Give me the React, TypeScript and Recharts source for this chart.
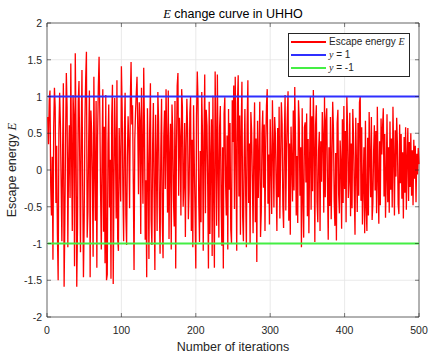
import type { ReactElement, ReactNode } from "react";
import { CartesianGrid, Legend, Line, LineChart, ReferenceArea, XAxis, YAxis } from "recharts";

// Escape energy E per iteration (1..500)
const escapeEnergy: number[] = [
  0.72, 0.35, 0.95, 1.08, -0.22, -0.62, 0.18, -1.22, 0.58, 1.12,
  0.86, -0.45, 0.33, -0.88, -1.5, 0.52, 1.05, 0.64, -0.21, -0.97,
  0.28, 1.18, -1.59, -0.72, 0.45, 1.32, 0.86, -1.05, 0.08, 0.61,
  -0.38, 1.45, 0.22, -0.83, 1.02, 0.74, -1.31, 1.59, 0.54, -1.59,
  -0.78, 0.93, 1.21, 0.12, -1.12, 0.47, 1.36, -0.26, -1.46, -0.68,
  0.68, 1.24, 1.61, -0.92, -0.57, 0.38, 1.08, -1.46, 0.81, 0.52,
  -0.14, -1.18, 1.27, 0.03, -0.69, 0.94, -1.33, 0.46, 1.13, 1.54,
  0.77, -0.31, -1.08, 0.21, 1.1, -0.84, 0.59, -1.27, 1.02, -1.5,
  -1.42, 0.36, 0.89, -0.51, 0.14, -1.48, 0.72, 1.16, -1.55, -0.23,
  0.98, 0.31, -0.66, 1.22, -0.94, -1.1, 0.57, 0.06, -0.43, 1.41,
  0.84, -0.28, -0.97, 0.49, 1.05, -0.61, -1.02, 0.18, 0.73, 0.35,
  -0.52, 0.96, 1.47, 0.62, 0.88, -0.19, -1.36, 0.41, 0.79, 1.04,
  1.27, 0.55, -0.33, 0.92, 0.68, -0.87, 1.12, 0.27, -0.46, 1.39,
  0.61, -0.95, -0.14, -1.46, 0.84, 0.07, -1.21, 0.53, 1.18, -0.68,
  -1.02, 0.34, 0.91, -0.37, -1.36, 0.75, 0.12, -0.83, 1.06, 0.66,
  -0.49, -1.14, 0.29, 0.97, -0.71, -1.2, 0.45, 0.81, -0.26, 1.1,
  0.37, -0.58, 1.08, -0.94, 0.16, 0.63, -1.08, 0.89, 0.52, -0.41,
  -0.77, 0.94, -1.34, 0.28, 1.15, 1.32, -0.35, 0.71, 0.43, -0.62,
  1.1, 0.86, -0.5, -0.18, 0.64, -0.91, 0.32, 0.97, 0.55, -0.67,
  -0.29, 0.78, 1.0, -0.83, 0.41, -1.05, 0.88, 0.09, -0.56, -1.34,
  0.73, 1.34, 0.95, -0.44, -0.98, 0.26, -0.71, 1.06, 0.48, -1.1,
  0.37, 1.3, -0.59, 0.82, 0.61, -0.2, -1.34, 0.93, -0.87, 0.15,
  0.69, -1.17, 1.01, -0.35, -1.33, 1.34, 0.44, -0.76, 1.3, 0.05,
  -0.92, 0.58, 0.87, -0.41, -1.03, 0.31, -1.34, 0.76, 0.99, -0.15,
  -0.62, 0.47, -1.08, 0.83, -0.27, 0.64, -0.81, -1.0, 0.95, 0.38,
  1.15, -0.53, 1.27, 0.22, -1.1, 0.91, 1.29, -0.36, 0.74, -0.88,
  0.52, 1.2, -0.64, -0.97, 0.17, 0.83, -0.32, -1.05, 0.61, 1.22,
  -0.45, 0.36, -1.0, 0.79, 0.54, -0.12, -0.86, 0.28, 0.92, -0.71,
  0.43, -1.25, 0.67, -0.38, 0.15, 0.93, -0.91, -0.57, 0.49, 0.81,
  -0.24, 0.62, -0.83, 0.37, 0.88, 1.1, -0.46, 0.21, -0.74, 0.69,
  0.08, -0.6, 0.95, 0.33, -0.51, 0.72, 0.48, -0.2, -0.83, 0.57,
  -0.37, 0.86, -0.66, 0.14, 0.92, 0.63, -0.48, -0.79, 0.41, 1.02,
  -0.55, 0.27, 0.74, 1.07, -0.69, 0.36, -0.88, 0.59, 0.12, -0.43,
  0.81, -0.28, 1.13, 0.46, -0.62, 0.19, -0.72, 0.95, 0.67, -0.35,
  0.31, -1.05, 0.84, -0.41, -0.92, 0.58, 0.65, -0.17, 0.77, -0.63,
  0.42, -0.86, 0.18, 1.0, -0.54, 0.73, -0.29, 1.09, 0.35, -0.98,
  0.61, 0.88, -0.44, -0.71, 0.26, 0.52, -0.83, 0.39, -0.16, 0.79,
  0.47, -0.58, 1.0, -0.37, 0.68, 0.84, -0.22, -0.95, 0.31, -0.49,
  0.72, -0.67, 0.14, 0.93, 0.56, -0.41, -0.76, 0.23, -0.96, 0.64,
  0.82, -0.33, -0.59, 0.4, 0.11, -0.8, 0.69, -0.45, 0.87, -0.26,
  0.53, -0.71, 1.0, 0.61, -0.38, -0.14, 0.78, -0.63, 0.36, -0.52,
  0.83, 0.46, -0.29, -0.88, 0.71, 0.05, -0.57, 0.64, -0.35, 0.92,
  1.0, -0.42, 0.58, -0.74, -0.19, 0.31, -0.86, 0.67, -0.51, -0.83,
  0.44, -0.62, 0.79, 0.18, -0.37, 0.72, -0.68, -0.46, 0.25, 0.61,
  -0.28, 0.53, -0.59, 0.86, -0.12, -0.73, 0.39, -0.48, 0.7, 0.21,
  0.57, 0.84, -0.36, 0.49, -0.65, -0.12, 0.76, -0.44, 0.31, -0.58,
  0.66, -0.27, 0.43, -0.51, 0.86, 0.19, -0.62, 0.54, -0.09, 0.71,
  0.35, -0.47, -0.6, 0.62, -0.18, 0.49, -0.39, 0.24, -0.66, 0.45,
  -0.31, 0.58, -0.54, 0.16, 0.57, -0.42, 0.38, -0.23, 0.5, -0.35,
  0.27, -0.48, 0.41, -0.12, 0.33, -0.44, 0.22, -0.06, 0.3, 0.08,
];
const upperBound = 1;
const lowerBound = -1;
const xTicks = [0, 100, 200, 300, 400, 500];
const yTicks = [-2, -1.5, -1, -0.5, 0, 0.5, 1, 1.5, 2];

const rows = escapeEnergy.map((e, i) => ({ iter: i + 1, e, up: upperBound, low: lowerBound }));

const WIDTH = 434;
const HEIGHT = 357;
const PLOT_W = 372;
const PLOT_H = 294;
const TICK_LEN = 4;
const axisColor = "#262626";
const sans = "'Liberation Sans', Arial, sans-serif";
const serif = "'Liberation Serif', 'Times New Roman', serif";

const math = (s: string): ReactElement => <tspan fontFamily={serif} fontStyle="italic">{s}</tspan>;
const mathHtml = (s: string): ReactElement => <span style={{ fontFamily: serif, fontStyle: "italic" }}>{s}</span>;

const legendOrder = ["e", "up", "low"];
const legendLabels: Record<string, ReactNode> = {
  e: <>Escape energy {mathHtml("E")}</>,
  up: <>{mathHtml("y")} = 1</>,
  low: <>{mathHtml("y")} = -1</>,
};

function XTick(props: any): ReactElement {
  const { x, y, payload } = props;
  return (
    <g>
      <line x1={x} x2={x} y1={y} y2={y - TICK_LEN} stroke={axisColor} strokeWidth={0.6} />
      <line x1={x} x2={x} y1={y - PLOT_H} y2={y - PLOT_H + TICK_LEN} stroke={axisColor} strokeWidth={0.6} />
      <text x={x} y={y + 17} textAnchor="middle" fontSize={10.5} fill={axisColor} fontFamily={sans}>{payload.value}</text>
    </g>
  );
}

function YTick(props: any): ReactElement {
  const { x, y, payload } = props;
  return (
    <g>
      <line x1={x} x2={x + TICK_LEN} y1={y} y2={y} stroke={axisColor} strokeWidth={0.6} />
      <line x1={x + PLOT_W} x2={x + PLOT_W - TICK_LEN} y1={y} y2={y} stroke={axisColor} strokeWidth={0.6} />
      <text x={x - 5} y={y + 4} textAnchor="end" fontSize={10.5} fill={axisColor} fontFamily={sans}>{payload.value}</text>
    </g>
  );
}

function LegendBox(props: any): ReactElement {
  const payload: Array<{ dataKey?: string; color?: string }> = props.payload ?? [];
  const items = legendOrder
    .map((k) => payload.find((p) => String(p.dataKey) === k))
    .filter((p): p is { dataKey?: string; color?: string } => Boolean(p));
  return (
    <div style={{ border: `1px solid ${axisColor}`, background: "#fff", padding: "1px 0 2px 0", fontFamily: sans, fontSize: 10, color: axisColor }}>
      {items.map((p) => (
        <div key={String(p.dataKey)} style={{ display: "flex", alignItems: "center", height: 13 }}>
          <span style={{ display: "inline-block", width: 35, height: 2, marginLeft: 2, marginRight: 3, background: p.color }} />
          <span style={{ whiteSpace: "nowrap" }}>{legendLabels[String(p.dataKey)]}</span>
        </div>
      ))}
    </div>
  );
}

export default function App(): ReactElement {
  return (
    <div style={{ position: "absolute", left: 0, top: 0, width: WIDTH, height: HEIGHT, background: "#fff" }}>
      <div style={{ position: "absolute", left: 47, top: 7, width: PLOT_W, textAlign: "center", fontFamily: sans, fontSize: 12.5, lineHeight: "14px", color: "#000", zIndex: 2 }}>
        {mathHtml("E")} change curve in UHHO
      </div>
      <LineChart width={WIDTH} height={HEIGHT} data={rows} margin={{ top: 23, right: 15, bottom: 0, left: 0 }}>
        <CartesianGrid stroke="#e4e4e4" strokeWidth={0.8} horizontalValues={yTicks} verticalValues={xTicks} />
        <XAxis
          dataKey="iter"
          type="number"
          domain={[0, 500]}
          ticks={xTicks}
          interval={0}
          height={40}
          axisLine={false}
          tickLine={false}
          tickSize={0}
          tickMargin={0}
          tick={<XTick />}
          label={{
            content: (p: any) => {
              const vb = p.viewBox ?? { x: 47, y: 317, width: PLOT_W };
              return (
                <text x={vb.x + vb.width / 2} y={vb.y + 34} textAnchor="middle" fontSize={12.5} fontFamily={sans} fill={axisColor}>
                  Number of iterations
                </text>
              );
            },
          }}
        />
        <YAxis
          type="number"
          domain={[-2, 2]}
          ticks={yTicks}
          interval={0}
          width={47}
          axisLine={false}
          tickLine={false}
          tickSize={0}
          tickMargin={0}
          tick={<YTick />}
          label={{
            content: (p: any) => {
              const vb = p.viewBox ?? { x: 0, y: 23, height: PLOT_H };
              const cx = vb.x + 16;
              const cy = vb.y + vb.height / 2;
              return (
                <text x={cx} y={cy} transform={`rotate(-90 ${cx} ${cy})`} textAnchor="middle" fontSize={12.5} fontFamily={sans} fill={axisColor}>
                  Escape energy {math("E")}
                </text>
              );
            },
          }}
        />
        <ReferenceArea x1={0} x2={500} y1={-2} y2={2} fill="none" fillOpacity={0} stroke="#6e6e6e" strokeWidth={1} ifOverflow="visible" />
        <Line dataKey="e" name="Escape energy E" stroke="#ff0000" strokeWidth={1.3} dot={false} isAnimationActive={false} />
        <Line dataKey="up" name="y = 1" stroke="#2f2fff" strokeWidth={2} dot={false} isAnimationActive={false} />
        <Line dataKey="low" name="y = -1" stroke="#44ee44" strokeWidth={2} dot={false} isAnimationActive={false} />
        <Legend
          layout="vertical"
          verticalAlign="middle"
          align="center"
          content={<LegendBox />}
          wrapperStyle={{ left: 288, top: 33, width: 122, height: "auto" }}
        />
      </LineChart>
    </div>
  );
}
